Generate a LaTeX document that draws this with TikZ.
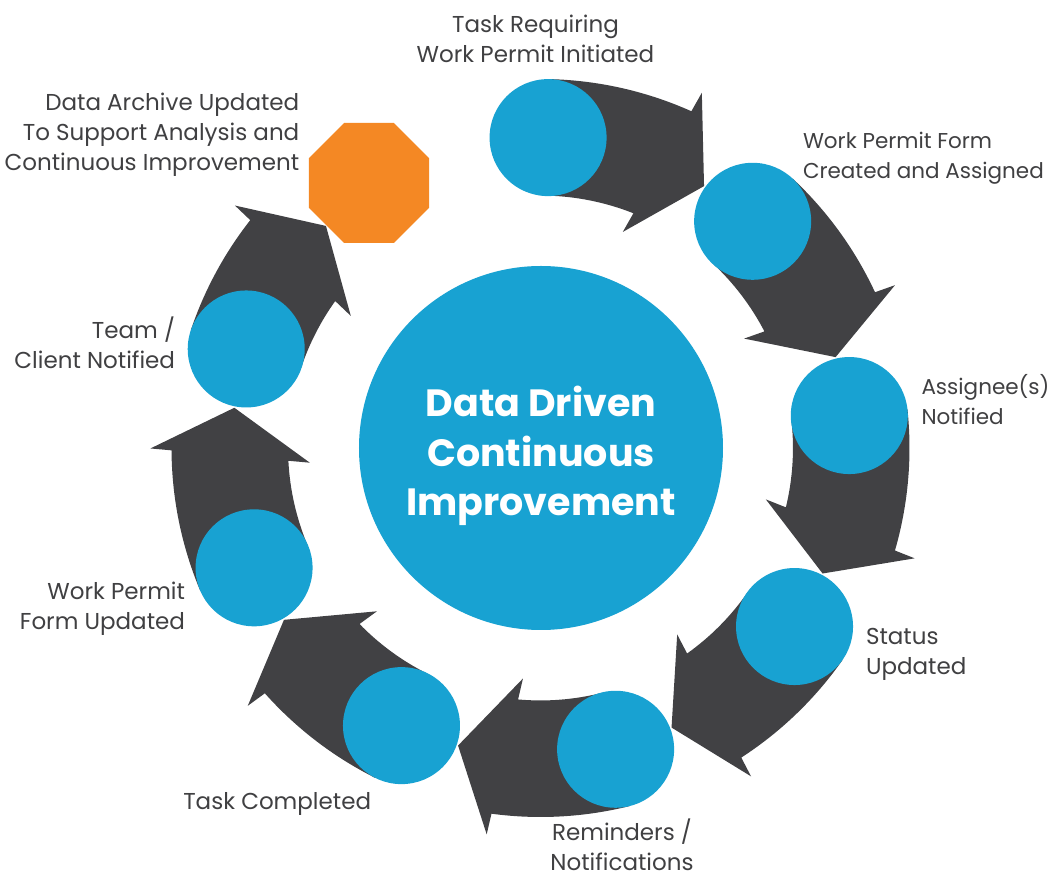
\documentclass[tikz,border=0pt]{standalone}
\usepackage{fontspec}
\setmainfont{Poppins}
\usetikzlibrary{shapes.geometric,calc}
\definecolor{cblue}{RGB}{24,162,210}
\definecolor{cdark}{RGB}{65,65,68}
\definecolor{corange}{RGB}{244,136,36}
\definecolor{ctext}{RGB}{64,64,66}
\pgfdeclarelayer{bg}
\pgfdeclarelayer{arrowlayer}
\pgfsetlayers{bg,arrowlayer,main}
% #1 source node, #2 source angle, #3 target angle (around ring centre O)
\newcommand\ringarrow[3]{%
  \pgfmathsetmacro\rbeta{#3+20}%
  \pgfmathsetmacro\rbo{\rbeta-1.03}%
  \pgfmathsetmacro\rbi{\rbeta+1.50}%
  \pgfmathsetmacro\rn{\rbeta-6.5}%
  \pgfmathsetmacro\rt{\rbeta-96.5}%
  \fill[arrowfill] ([shift={(#2:58.5)}]#1.center)
    arc[start angle=#2, end angle=\rbo, radius=369]
    -- ($(O)+(\rbeta:310.5)+(\rn:58.5)$)
    -- ($(O)+(\rbeta:310.5)+(\rn:80)$)
    -- ($(O)+(\rbeta:310.5)+(\rt:48)$)
    -- ($(O)+(\rbeta:310.5)+(\rn:-80)$)
    -- ($(O)+(\rbeta:310.5)+(\rn:-58.5)$)
    arc[start angle=\rbi, end angle=#2, radius=252.2]
    -- cycle;}
\begin{document}
\begin{tikzpicture}[x=1pt,y=1pt,
  stepcircle/.style={circle, fill=cblue, minimum size=117pt, inner sep=0pt, outer sep=0pt},
  arrowfill/.style={fill=cdark},
  lbl/.style={text=ctext, font=\fontsize{23}{30}\selectfont, inner sep=0pt, outer sep=0pt},
  lblsmall/.style={lbl, font=\fontsize{21.5}{30}\selectfont}]
\useasboundingbox (-540.5,-429) rectangle (514.5,448);
\begin{pgfonlayer}{bg}
  \fill[white] (-540.5,-429) rectangle (514.5,448);
\end{pgfonlayer}
\coordinate (O) at (0,0);
% hub
\node[circle, fill=cblue, minimum size=364pt, inner sep=0pt] (hub) at (0.5,0) {};
\node[text=white, font=\fontsize{38}{49.5}\selectfont\bfseries, align=center, anchor=base, inner sep=0pt] (title) at (0.5,-68) {Data Driven\\Continuous\\Improvement};
% steps
\node[stepcircle] (c1) at (88.6:310.5) {};
\node[stepcircle] (c2) at (46.9:310.5) {};
\node[stepcircle] (c3) at (6.0:310.5) {};
\node[stepcircle] (c4) at (-35.1:310.5) {};
\node[stepcircle] (c5) at (-76.0:310.5) {};
\node[stepcircle] (c6) at (-116.6:310.5) {};
\node[stepcircle] (c7) at (-157.3:310.5) {};
\node[stepcircle] (c8) at (161.4:310.5) {};
\node[regular polygon, regular polygon sides=8, minimum size=129.9pt, inner sep=0pt, fill=corange] (oct) at (-171.5,265) {};
% arrows
\begin{pgfonlayer}{arrowlayer}
\ringarrow{c1}{88.6}{46.9}
\ringarrow{c2}{46.9}{6.0}
\ringarrow{c3}{6.0}{-35.1}
\ringarrow{c4}{-35.1}{-76.0}
\ringarrow{c5}{-76.0}{-116.6}
\ringarrow{c6}{-116.6}{-157.3}
\ringarrow{c7}{-157.3}{-198.6}
\ringarrow{c8}{161.4}{122.9}
\end{pgfonlayer}
% labels
\node[lbl, align=center, anchor=base] (l1) at (-5,385) {Task Requiring\\Work Permit Initiated};
\node[lblsmall, align=left, anchor=base west] (l2) at (262.5,269) {Work Permit Form\\Created and Assigned};
\node[lblsmall, align=left, anchor=base west] (l3) at (381,23) {Assignee(s)\\Notified};
\node[lbl, align=left, anchor=base west] (l4) at (325.5,-227) {Status\\Updated};
\node[lbl, align=center, anchor=base] (l5) at (81.5,-422) {Reminders /\\Notifications};
\node[lbl, anchor=base west] (l6) at (-357.2,-362) {Task Completed};
\node[lbl, align=right, anchor=base east] (l7) at (-355.5,-182) {Work Permit\\Form Updated};
\node[lbl, align=right, anchor=base east] (l8) at (-365.5,79.7) {Team /\\Client Notified};
\node[lbl, align=right, anchor=base east] (l9) at (-241.2,277) {Data Archive Updated\\To Support Analysis and\\Continuous Improvement};
\end{tikzpicture}
\end{document}
